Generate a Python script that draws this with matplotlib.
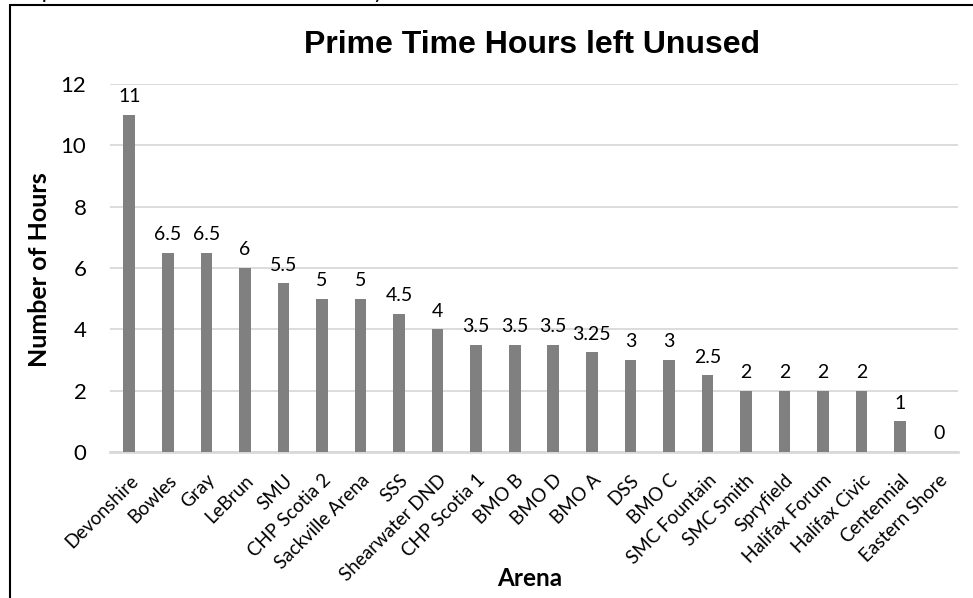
"""
Prime time hours left unused, by arena (bar chart with value labels)
"""

import matplotlib
matplotlib.use("Agg")
import matplotlib.pyplot as plt
import matplotlib.patches as mpatches
import numpy as np

# ── Data ─────────────────────────────────────────────────────────────────────
arenas = ["Devonshire", "Bowles", "Gray", "LeBrun", "SMU", "CHP Scotia 2",
          "Sackville Arena", "SSS", "Shearwater DND", "CHP Scotia 1", "BMO B",
          "BMO D", "BMO A", "DSS", "BMO C", "SMC Fountain", "SMC Smith",
          "Spryfield", "Halifax Forum", "Halifax Civic", "Centennial",
          "Eastern Shore"]
hours = [11, 6.5, 6.5, 6, 5.5, 5, 5, 4.5, 4, 3.5, 3.5, 3.5, 3.25, 3, 3, 2.5,
         2, 2, 2, 2, 1, 0]
value_labels = ["11", "6.5", "6.5", "6", "5.5", "5", "5", "4.5", "4", "3.5",
                "3.5", "3.5", "3.25", "3", "3", "2.5", "2", "2", "2", "2", "1", "0"]
yticks = [0, 2, 4, 6, 8, 10, 12]

BODY = "Lato"
HEAD = "Liberation Sans"
BAR = "#808080"
GRID = "#d9d9d9"

W, H = 973, 598
fig = plt.figure(figsize=(W / 100, H / 100), dpi=100)
ax = fig.add_axes([110 / W, 1 - 452 / H, 848 / W, 368 / H])

x = np.arange(len(arenas))
ax.bar(x, hours, width=0.3, color=BAR, zorder=3)

for xi, v, lab in zip(x, hours, value_labels):
    ax.annotate(lab, xy=(xi, v), xytext=(0, 7), textcoords="offset points",
                ha="center", va="bottom", fontsize=14, family=BODY)

ax.set_xlim(-0.5, len(arenas) - 0.5)
ax.set_ylim(0, 12)
ax.set_yticks(yticks)
ax.set_yticklabels([str(t) for t in yticks], fontsize=16, family=BODY)
ax.set_xticks(x)
ax.set_xticklabels(arenas, rotation=45, ha="right", rotation_mode="anchor",
                   fontsize=13.5, family=BODY)
ax.tick_params(axis="both", length=0)
ax.tick_params(axis="y", pad=17)
ax.tick_params(axis="x", pad=14)

ax.grid(axis="y", color=GRID, lw=1.3, zorder=0)
for s in ["top", "right", "left"]:
    ax.spines[s].set_visible(False)
ax.spines["bottom"].set_color(GRID)
ax.spines["bottom"].set_linewidth(2)

# titles / axis labels
fig.text(532 / W, 1 - 45 / H, "Prime Time Hours left Unused", ha="center",
         va="center", fontsize=23, fontweight="bold", family=HEAD)
fig.text(40 / W, 1 - 270 / H, "Number of Hours", rotation=90, ha="center",
         va="center", fontsize=18, fontweight="bold", family=BODY)
fig.text(530 / W, 1 - 578 / H, "Arena", ha="center", va="center",
         fontsize=17.5, fontweight="bold", family=BODY)

# caption clipped at the top edge of the page
fig.text(6 / W, 1 + 2 / H, "Graph 3: Prime Time Hours Unused by Arena",
         ha="left", va="baseline", fontsize=16, family=BODY)

# chart frame (runs off the right and bottom of the crop)
fig.patches.append(mpatches.Rectangle((10 / W, -0.1), 2, 1.1 - 5 / H,
                                      transform=fig.transFigure, fill=False,
                                      ec="black", lw=1.5))

fig.savefig("out.png", dpi=100)
plt.close()
